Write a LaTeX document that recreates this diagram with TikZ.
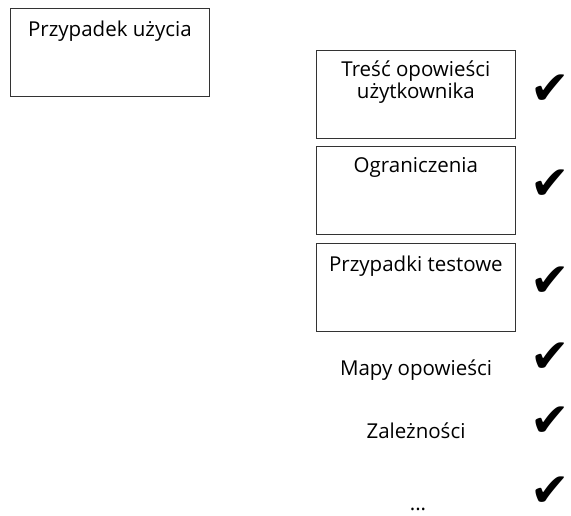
\documentclass[tikz,border=0pt]{standalone}
\usepackage{fontspec}
\setmainfont{Open Sans}
\newfontfamily\symfont{DejaVu Sans}
\usetikzlibrary{positioning}
\tikzset{
  card/.style={draw=black!80, line width=0.8pt, minimum width=199pt, minimum height=88pt, anchor=north west, inner sep=0pt},
  cardtext/.style={font=\fontsize{20.5}{20}\selectfont, align=center, inner sep=0pt, anchor=base},
  tick/.style={font=\symfont\fontsize{47}{47}\selectfont, inner sep=0pt, anchor=east}
}

\begin{document}
\begin{tikzpicture}[x=1pt, y=-1pt]
  \useasboundingbox (0,0) rectangle (571,515);

  % use case
  \node [card] (uc) at (10,8) {};
  \node [cardtext] (uclabel) at ([yshift=-28pt]uc.north) {Przypadek użycia};

  % story cards
  \node [card] (story) at (316,50) {};
  \node [cardtext] (storylabel) at ([yshift=-48pt]story.north) {Treść opowieści\\użytkownika};

  \node [card] (limits) at (316,146) {};
  \node [cardtext] (limitslabel) at ([yshift=-26pt]limits.north) {Ograniczenia};

  \node [card] (tests) at (316,243) {};
  \node [cardtext] (testslabel) at ([yshift=-28pt]tests.north) {Przypadki testowe};

  % without cards
  \node [cardtext] (maps) at (416,375) {Mapy opowieści};
  \node [cardtext] (deps) at (416,438) {Zależności};
  \node [cardtext] (more) at (418,510) {...};

  % checks
  \foreach \y in {90,185,282,358,422,492}
    \node [tick] (tick\y) at (570,\y) {✔};

\end{tikzpicture}
\end{document}
